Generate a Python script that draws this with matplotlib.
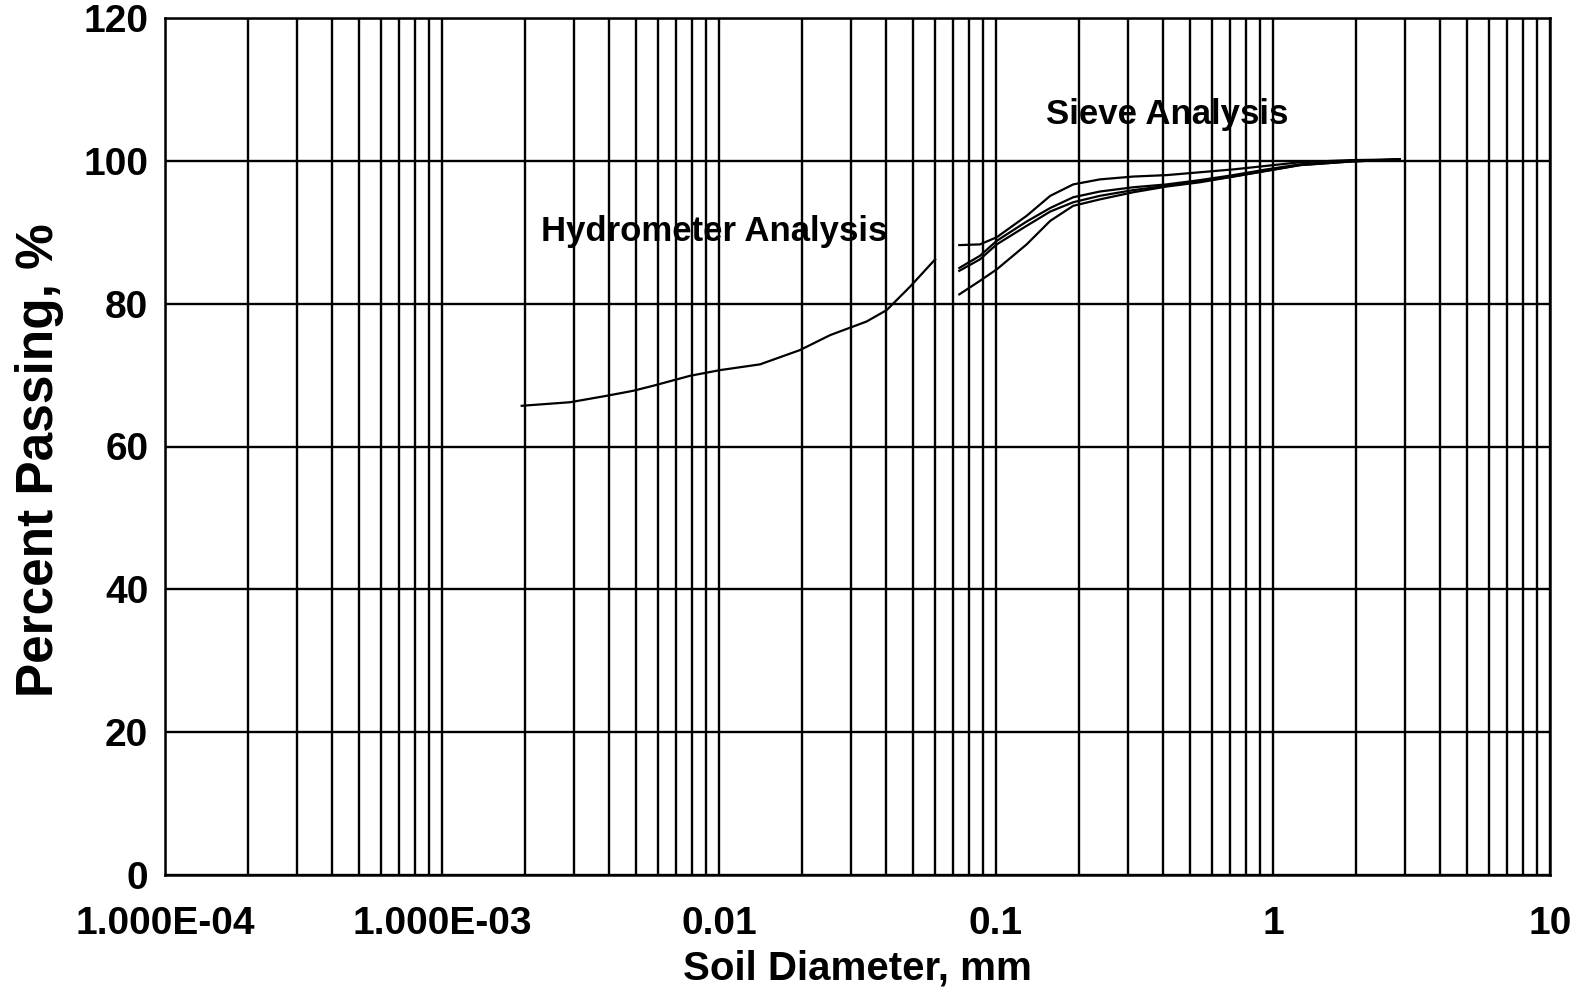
import matplotlib
matplotlib.use("Agg")
import matplotlib.pyplot as plt
from matplotlib.ticker import LogLocator, NullFormatter, FixedLocator, FixedFormatter

# ---- data ----
hyd_d = [0.00194, 0.0029, 0.00393, 0.0049, 0.00578, 0.00786, 0.0101, 0.01406,
         0.0196, 0.0252, 0.0341, 0.0403, 0.049, 0.0603]
hyd_p = [65.7, 66.2, 67.1, 67.8, 68.5, 69.9, 70.7, 71.5, 73.5, 75.6, 77.5, 79.1, 82.4, 86.2]

sieve_d = [0.0737, 0.0875, 0.1006, 0.129, 0.157, 0.190, 0.237, 0.313, 0.413,
           0.545, 0.719, 0.948, 1.25, 1.90, 2.87]
sieve_a = [88.2, 88.3, 89.3, 92.3, 95.1, 96.7, 97.4, 97.8, 98.0, 98.4, 98.8, 99.3, 99.8, 100.1, 100.2]
sieve_b = [85.0, 86.7, 88.8, 91.5, 93.4, 94.9, 95.7, 96.3, 96.7, 97.3, 98.0, 98.8, 99.5, 100.0, 100.2]
sieve_c = [84.6, 86.2, 88.3, 90.9, 92.9, 94.2, 95.1, 95.9, 96.5, 97.1, 97.8, 98.6, 99.4, 99.9, 100.2]
sieve_d_p = [81.3, 83.2, 84.8, 88.3, 91.6, 93.7, 94.6, 95.6, 96.4, 97.0, 97.8, 98.6, 99.4, 99.9, 100.2]

x_ticks = [1e-4, 1e-3, 1e-2, 1e-1, 1, 10]
x_ticklabels = ["1.000E-04", "1.000E-03", "0.01", "0.1", "1", "10"]
y_ticks = [0, 20, 40, 60, 80, 100, 120]

plt.rcParams['font.family'] = ['Liberation Sans', 'DejaVu Sans']
plt.rcParams['font.weight'] = 'bold'

fig = plt.figure(figsize=(15.85, 9.94), dpi=100)
ax = fig.add_axes([165/1585, 1-875/994, (1550-165)/1585, (875-18)/994])

lw = 1.6
for s, p in [(sieve_d, sieve_a), (sieve_d, sieve_b), (sieve_d, sieve_c), (sieve_d, sieve_d_p)]:
    ax.plot(s, p, color='black', lw=lw, zorder=3)
ax.plot(hyd_d, hyd_p, color='black', lw=lw, zorder=3)

ax.set_xscale('log')
ax.set_xlim(1e-4, 10)
ax.set_ylim(0, 120)

ax.xaxis.set_major_locator(FixedLocator(x_ticks))
ax.xaxis.set_major_formatter(FixedFormatter(x_ticklabels))
ax.xaxis.set_minor_locator(LogLocator(base=10, subs=range(2, 10), numticks=50))
ax.xaxis.set_minor_formatter(NullFormatter())
ax.set_yticks(y_ticks)

ax.grid(True, which='both', axis='x', color='black', lw=1.7)
ax.grid(True, which='major', axis='y', color='black', lw=1.7)
ax.set_axisbelow(True)

for sp in ax.spines.values():
    sp.set_linewidth(1.8)
    sp.set_color('black')

ax.tick_params(axis='both', which='both', length=0)
ax.tick_params(axis='y', labelsize=28, pad=12)
ax.tick_params(axis='x', labelsize=28, pad=22)
for lab in ax.get_xticklabels() + ax.get_yticklabels():
    lab.set_fontweight('bold')

ax.text(0.152, 106.5, "Sieve Analysis", fontsize=25, fontweight='bold', ha='left', va='center', zorder=4)
ax.text(0.00228, 90.1, "Hydrometer Analysis", fontsize=25, fontweight='bold', ha='left', va='center', zorder=4)

fig.text(857/1585, 1-968/994, "Soil Diameter, mm", fontsize=29, fontweight='bold', ha='center', va='center')
fig.text(40/1585, 1-460/994, "Percent Passing, %", fontsize=37, fontweight='bold', ha='center', va='center', rotation=90)

fig.savefig("out.png", dpi=100, facecolor='white')
